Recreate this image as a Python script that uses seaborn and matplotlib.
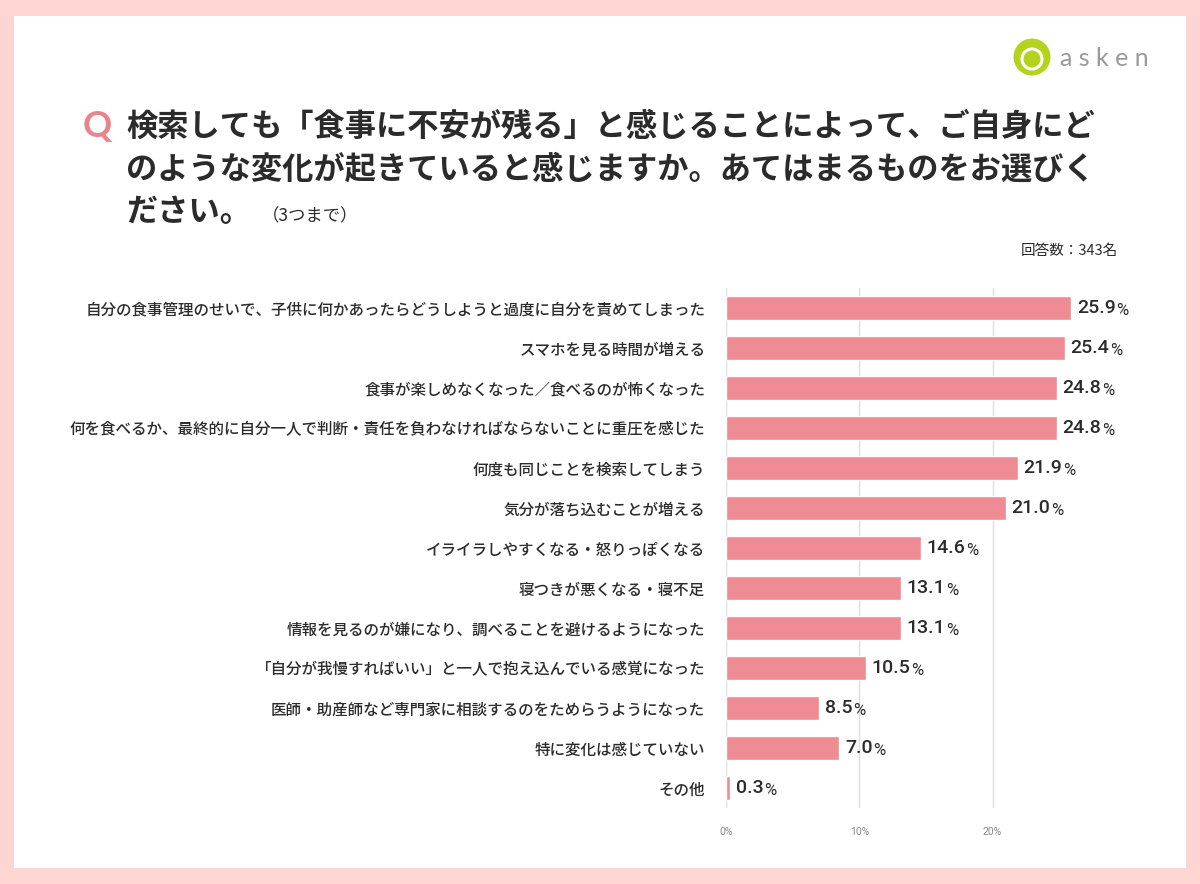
import seaborn as sns
import numpy as np
import pandas as pd
import matplotlib.pyplot as plt
from matplotlib.patches import Circle, Rectangle
from matplotlib.transforms import IdentityTransform

sns.set_theme(style="white")
plt.rcParams['font.family'] = ['Noto Sans CJK JP', 'DejaVu Sans']

# data
categories = [
    "自分の食事管理のせいで、子供に何かあったらどうしようと過度に自分を責めてしまった",
    "スマホを見る時間が増える",
    "食事が楽しめなくなった／食べるのが怖くなった",
    "何を食べるか、最終的に自分一人で判断・責任を負わなければならないことに重圧を感じた",
    "何度も同じことを検索してしまう",
    "気分が落ち込むことが増える",
    "イライラしやすくなる・怒りっぽくなる",
    "寝つきが悪くなる・寝不足",
    "情報を見るのが嫌になり、調べることを避けるようになった",
    "「自分が我慢すればいい」と一人で抱え込んでいる感覚になった",
    "医師・助産師など専門家に相談するのをためらうようになった",
    "特に変化は感じていない",
    "その他",
]
# printed percentages
label_pct = [25.9, 25.4, 24.8, 24.8, 21.9, 21.0, 14.6, 13.1, 13.1, 10.5, 8.5, 7.0, 0.3]
# bar lengths as drawn in the source (the 8.5 / 7.0 bars are swapped there)
bar_pct = [25.9, 25.4, 24.8, 24.8, 21.9, 21.0, 14.6, 13.1, 13.1, 10.5, 7.0, 8.5, 0.3]
x_ticks = [0, 10, 20]

df = pd.DataFrame({"item": categories, "pct": bar_pct})

BG = "#FDD6D3"
BAR = "#EE8B93"
TXT = "#2b2b2b"
NUMFONT = ['Roboto', 'DejaVu Sans']

fig = plt.figure(figsize=(12, 8.84), dpi=100)
fig.patch.set_facecolor(BG)
# white panel
fig.add_artist(Rectangle((14 / 1200, 16 / 884), 1 - 28 / 1200, 1 - 32 / 884,
                         transform=fig.transFigure, facecolor="white",
                         edgecolor="none", zorder=0))

ax = fig.add_axes([726 / 1200, 1 - 808 / 884, 400 / 1200, 520 / 884])
ax.set_facecolor("none")
sns.barplot(data=df, x="pct", y="item", color=BAR, width=0.6,
            saturation=1, ax=ax, zorder=2)
ax.set_xlim(0, 30)
ax.set_ylim(12.5, -0.5)
ax.set_xticks(x_ticks)
ax.set_xticklabels([f"{t}%" for t in x_ticks], fontsize=7.5, color="#888888",
                   family=NUMFONT)
ax.tick_params(axis="x", length=0, pad=14)
ax.tick_params(axis="y", length=0, pad=15)
ax.set_yticks(range(len(categories)))
ax.set_yticklabels(categories, fontsize=11.2, color=TXT, fontweight="medium")
ax.set_xlabel("")
ax.set_ylabel("")
for s in ax.spines.values():
    s.set_visible(False)
for t in x_ticks:
    ax.axvline(t, color="#dddddd", lw=1, zorder=1)

for i, (b, p) in enumerate(zip(bar_pct, label_pct)):
    t = ax.annotate(f"{p:.1f}", xy=(b, i), xytext=(4, 0), textcoords="offset points",
                    va="center", ha="left", fontsize=14, color=TXT,
                    family=NUMFONT, fontweight="medium")
    ax.annotate("%", xy=(1, 0), xycoords=t, xytext=(0.5, -0.4), textcoords="offset points",
                va="bottom", ha="left", fontsize=12, color=TXT, family=NUMFONT)

# title
fig.text(83 / 1200, 1 - 126 / 884, "Q", fontsize=26, fontweight="bold",
         color="#E8848C", va="center", ha="left", family=['Lato', 'DejaVu Sans'])
title_lines = [
    "検索しても「食事に不安が残る」と感じることによって、ご自身にど",
    "のような変化が起きていると感じますか。あてはまるものをお選びく",
    "ださい。",
]
for k, line in enumerate(title_lines):
    fig.text(126 / 1200, 1 - (127 + 42.5 * k) / 884, line, fontsize=22.5,
             fontweight="bold", color=TXT, va="center", ha="left")
fig.text(262 / 1200, 1 - 216 / 884, "（3つまで）", fontsize=12.5, color=TXT,
         va="center", ha="left")
fig.text(1118 / 1200, 1 - 251 / 884, "回答数：343名", fontsize=10.5, color=TXT,
         va="center", ha="right")

# logo (pixel coordinates, y from bottom)
fig.add_artist(Circle((1032, 884 - 57), 18.5, transform=IdentityTransform(),
                      facecolor="#B5D31C", edgecolor="none"))
fig.add_artist(Circle((1032, 884 - 59), 10, transform=IdentityTransform(),
                      facecolor="none", edgecolor="white", lw=2.2))
fig.text(1104 / 1200, 1 - 58 / 884, "a s k e n", fontsize=18, color="#9a9a9a",
         va="center", ha="center", family=['Lato', 'DejaVu Sans'])

plt.savefig("out.png", dpi=100, facecolor=BG)
